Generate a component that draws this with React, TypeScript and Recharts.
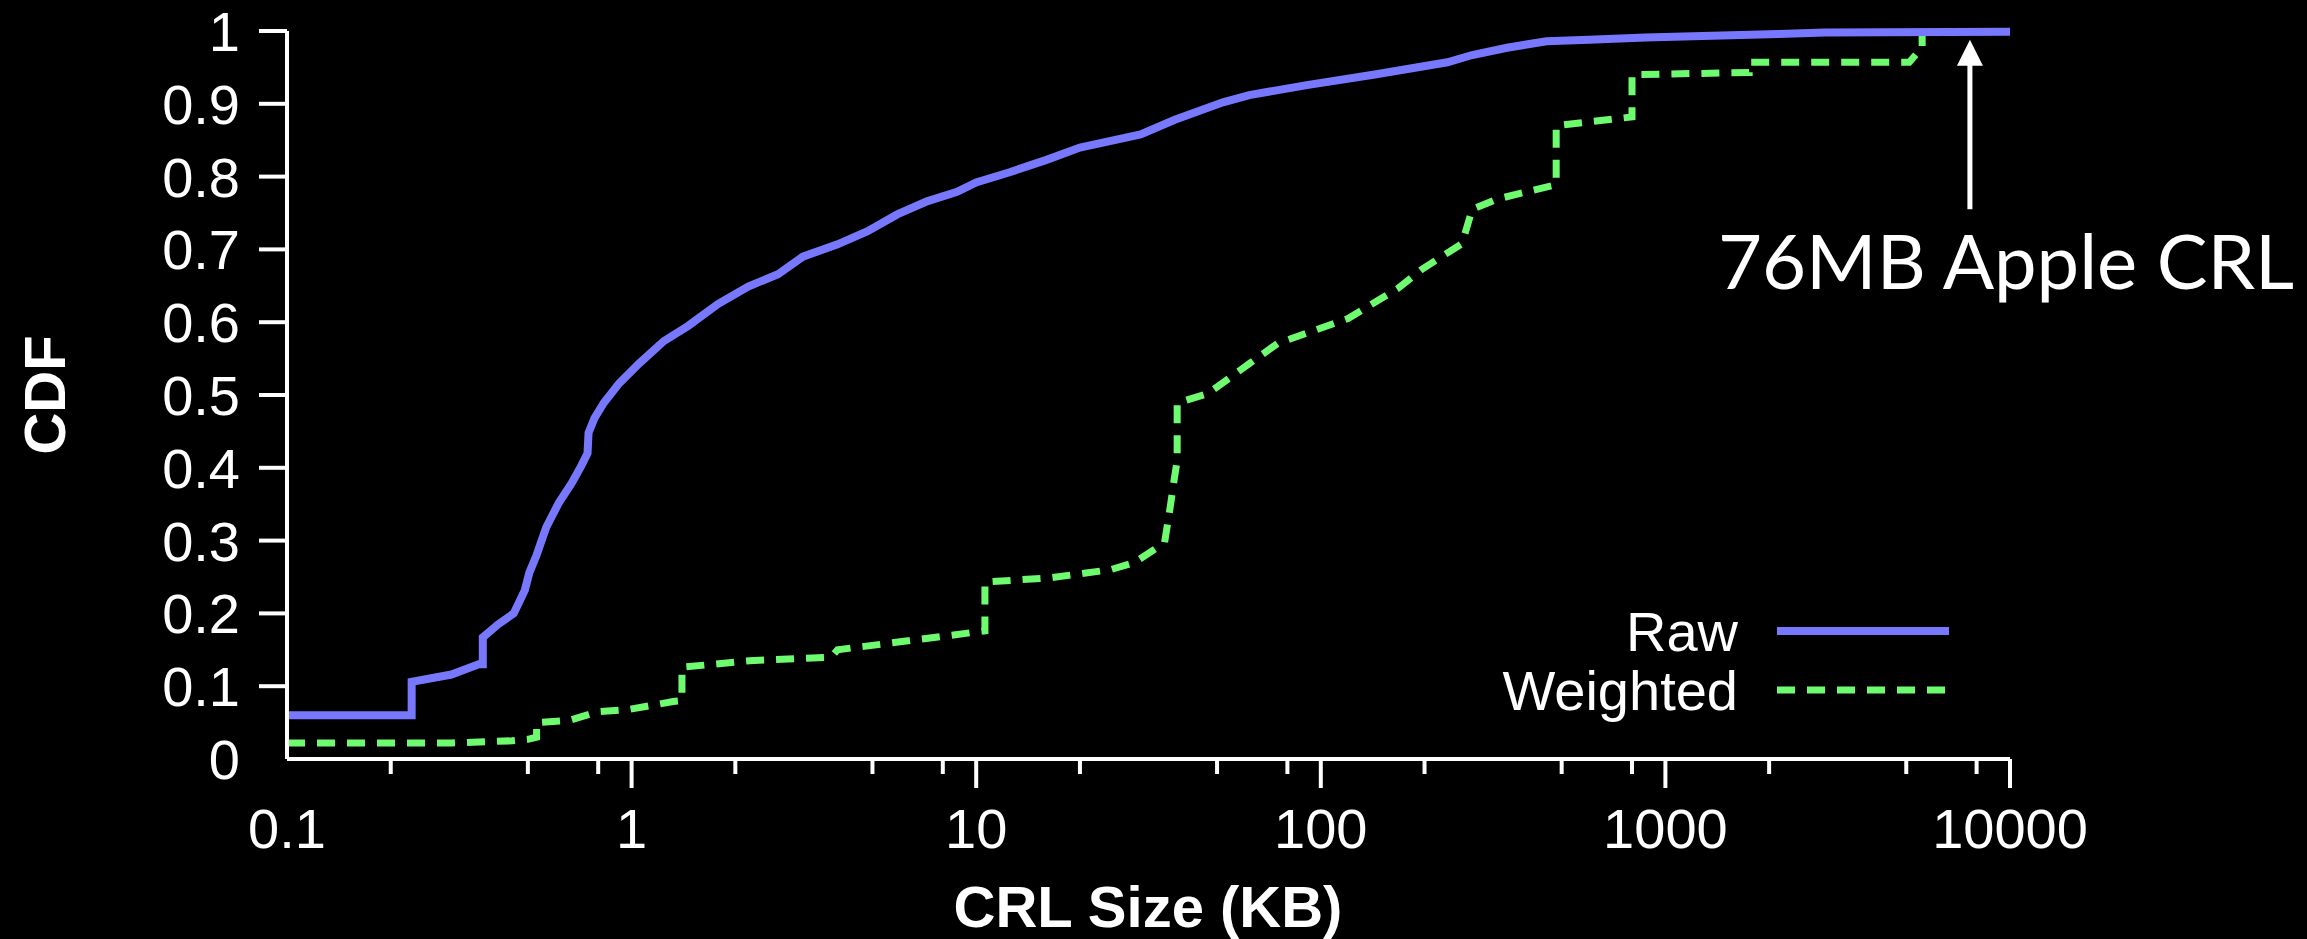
import React from 'react';
import {
  LineChart,
  Line,
  XAxis,
  YAxis,
  Legend,
  ReferenceLine,
  ReferenceDot
} from 'recharts';

// CRL size in KB (x) and cumulative fraction (y)
const rawSize = [
  0.1, 0.23, 0.23, 0.3, 0.36, 0.37, 0.37, 0.41, 0.455, 0.49, 0.505, 0.53, 0.565, 0.615,
  0.67, 0.715, 0.745, 0.75, 0.78, 0.83, 0.92, 1.05, 1.24, 1.46, 1.78, 2.18, 2.66, 3.14,
  3.96, 4.84, 5.9, 7.2, 8.8, 10, 12.5, 16, 20, 30, 37.7, 52, 62, 92, 142, 233, 275, 347,
  452, 600, 876, 2128, 2900, 10000
];
const rawCdf = [
  0.06, 0.06, 0.106, 0.116, 0.13, 0.13, 0.167, 0.185, 0.2, 0.232, 0.256, 0.28, 0.318, 0.352,
  0.379, 0.403, 0.42, 0.448, 0.468, 0.489, 0.516, 0.543, 0.574, 0.595, 0.625, 0.649, 0.666, 0.69,
  0.707, 0.725, 0.748, 0.766, 0.779, 0.792, 0.806, 0.823, 0.84, 0.858, 0.878, 0.902, 0.912, 0.926,
  0.94, 0.957, 0.967, 0.977, 0.986, 0.988, 0.991, 0.996, 0.998, 0.999
];

const weightedSize = [
  0.1, 0.3, 0.45, 0.5, 0.53, 0.53, 0.66, 0.8, 0.98, 1.32, 1.4, 1.4, 2.2, 3.8, 3.96, 6.75,
  10.6, 10.6, 16.5, 24.5, 28.8, 35.2, 36.4, 37.6, 38.3, 38.3, 47, 62, 75, 120, 167, 197,
  257, 275, 324, 482, 482, 800, 800, 1750, 1750, 5100, 5480, 5560, 5560
];
const weightedCdf = [
  0.022, 0.022, 0.025, 0.027, 0.03, 0.05, 0.053, 0.065, 0.068, 0.079, 0.08, 0.126, 0.135, 0.14, 0.15, 0.164,
  0.176, 0.243, 0.249, 0.26, 0.27, 0.297, 0.34, 0.386, 0.41, 0.489, 0.502, 0.543, 0.571, 0.605, 0.646, 0.673,
  0.708, 0.755, 0.769, 0.789, 0.87, 0.882, 0.94, 0.943, 0.957, 0.957, 0.974, 0.975, 1.0
];

const xTicks = [
  0.1, 0.2, 0.5, 0.8, 1, 2, 5, 8, 10, 20, 50, 80, 100, 200, 500, 800,
  1000, 2000, 5000, 8000, 10000
];
const xLabels = ['0.1', '1', '10', '100', '1000', '10000'];
const yTicks = [0, 0.1, 0.2, 0.3, 0.4, 0.5, 0.6, 0.7, 0.8, 0.9, 1];

// annotation anchor for the Apple CRL arrow
const appleSize = 7650;

const rawData = rawSize.map((s, i) => ({ size: s, cdf: rawCdf[i] }));
const weightedData = weightedSize.map((s, i) => ({ size: s, cdf: weightedCdf[i] }));

const BLUE = '#7878ff';
const GREEN = '#6ffb6f';
const TICK_FONT = '"Liberation Sans", Arial, Helvetica, sans-serif';

const XTick = ({ x, y, payload }: any) => {
  const v = payload.value;
  const label = xLabels.find(l => Number(l) === v);
  const isMajor = label !== undefined;
  return (
    <g>
      {v !== 0.1 && (
        <line x1={x} y1={y} x2={x} y2={y + (isMajor ? 29 : 15)} stroke="#fff" strokeWidth={4} />
      )}
      {isMajor && (
        <text x={x} y={y + 89} textAnchor="middle" fill="#fff" fontSize={56} fontFamily={TICK_FONT}>
          {label}
        </text>
      )}
    </g>
  );
};

const YTick = ({ x, y, payload }: any) => {
  const v = payload.value;
  return (
    <g>
      {v !== 0 && <line x1={x} y1={y} x2={x - 28} y2={y} stroke="#fff" strokeWidth={4} />}
      <text x={x - 47} y={y + 20} textAnchor="end" fill="#fff" fontSize={56} fontFamily={TICK_FONT}>
        {String(Number(v.toFixed(1)))}
      </text>
    </g>
  );
};

// legend box sits at left 1400 / top 580 of the chart
const LegendBox = () => (
  <svg width={620} height={150}>
    <text x={338} y={71} textAnchor="end" fill="#fff" fontSize={56} fontFamily={TICK_FONT}>Raw</text>
    <line x1={377} y1={51} x2={549} y2={51} stroke={BLUE} strokeWidth={8} />
    <text x={338} y={130} textAnchor="end" fill="#fff" fontSize={56} fontFamily={TICK_FONT}>Weighted</text>
    <line x1={377} y1={110} x2={547} y2={110} stroke={GREEN} strokeWidth={7} strokeDasharray="18 12" />
  </svg>
);

const Arrow = (props: any) => {
  const { x1, y1, x2, y2 } = props;
  return (
    <g>
      <line x1={x1} y1={y1} x2={x2} y2={y2 + 22} stroke="#fff" strokeWidth={5} />
      <polygon points={`${x2},${y2} ${x2 - 13},${y2 + 26} ${x2 + 13},${y2 + 26}`} fill="#fff" />
    </g>
  );
};

const AppleLabel = (props: any) => {
  const { cx, cy } = props;
  return (
    <text x={cx - 252} y={cy} fill="#fff" fontSize={76} fontFamily="Lato, 'Open Sans', sans-serif">
      76MB Apple CRL
    </text>
  );
};

export default function App() {
  return (
    <div style={{ position: 'absolute', left: 0, top: 0, width: 2307, height: 939, background: '#000' }}>
      <LineChart width={2307} height={939} margin={{ top: 31, right: 297, left: 0, bottom: 0 }}>
        <XAxis
          dataKey="size"
          type="number"
          scale="log"
          domain={[0.1, 10000]}
          ticks={xTicks}
          interval={0}
          height={180}
          tick={<XTick />}
          tickLine={false}
          tickSize={0}
          tickMargin={0}
          axisLine={{ stroke: '#fff', strokeWidth: 4 }}
          label={{
            content: () => (
              <text x={1148} y={927} textAnchor="middle" fill="#fff" fontSize={58}
                fontWeight="bold" fontFamily={TICK_FONT}>
                CRL Size (KB)
              </text>
            )
          }}
        />
        <YAxis
          type="number"
          domain={[0, 1]}
          ticks={yTicks}
          interval={0}
          width={287}
          tick={<YTick />}
          tickLine={false}
          tickSize={0}
          tickMargin={0}
          axisLine={{ stroke: '#fff', strokeWidth: 4 }}
          label={{
            content: () => (
              <text transform="translate(65,395) rotate(-90)" textAnchor="middle" fill="#fff"
                fontSize={58} fontWeight="bold" fontFamily={TICK_FONT}>
                CDF
              </text>
            )
          }}
        />
        <Legend
          layout="horizontal"
          verticalAlign="middle"
          align="center"
          content={<LegendBox />}
          wrapperStyle={{ position: 'absolute', left: 1400, top: 580, width: 620, height: 150 }}
        />
        <Line
          data={weightedData}
          dataKey="cdf"
          name="Weighted"
          type="linear"
          stroke={GREEN}
          strokeWidth={7}
          strokeDasharray="18 12"
          dot={false}
          activeDot={false}
          isAnimationActive={false}
        />
        <Line
          data={rawData}
          dataKey="cdf"
          name="Raw"
          type="linear"
          stroke={BLUE}
          strokeWidth={8}
          dot={false}
          activeDot={false}
          isAnimationActive={false}
        />
        <ReferenceLine
          segment={[{ x: appleSize, y: 0.755 }, { x: appleSize, y: 0.988 }]}
          shape={<Arrow />}
        />
        <ReferenceDot x={appleSize} y={0.646} r={0} shape={<AppleLabel />} />
      </LineChart>
    </div>
  );
}
